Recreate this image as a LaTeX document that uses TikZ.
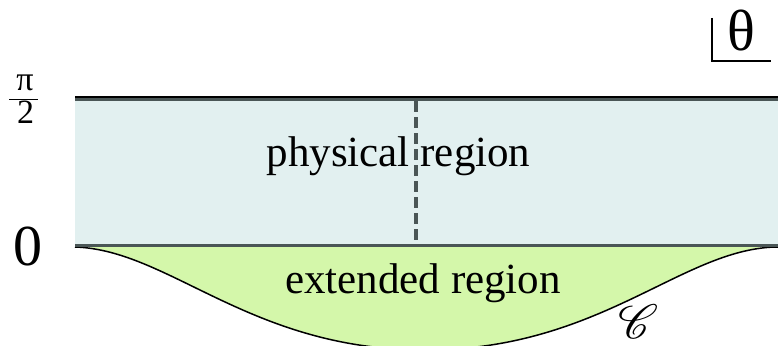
\documentclass[tikz,border=0pt]{standalone}
\usepackage{fontspec}
\setmainfont{Liberation Serif}
\usepackage{mathrsfs}
\usepackage{tikz}
\definecolor{physfill}{HTML}{E2F0F0}
\definecolor{extfill}{HTML}{D4F7AA}
\definecolor{edgegray}{HTML}{4A5656}
\tikzstyle{edge} = [draw=edgegray, line width=3pt]
\tikzstyle{cut} = [draw=edgegray, line width=4pt, dash pattern=on 11pt off 5pt]
\tikzstyle{contour} = [draw=black, line width=1.5pt]
\tikzstyle{label} = [inner sep=0pt, font=\fontsize{43}{50}\selectfont]
\tikzstyle{tick} = [inner sep=0pt, font=\fontsize{58}{64}\selectfont]
\tikzstyle{fracpart} = [inner sep=0pt, font=\fontsize{34}{38}\selectfont]

\begin{document}
\begin{tikzpicture}[x=1pt, y=-1pt]
        \useasboundingbox (0,0) rectangle (778,345);
        \clip (0,0) rectangle (778,345);

        % strip and extended region
        \fill[physfill] (75,96) rectangle (790,246);
        \fill[extfill] (75,246) .. controls (170,250) and (250,350) .. (425,350)
                                .. controls (600,350) and (680,250) .. (775,246) -- (790,246) -- cycle;
        \draw[contour] (75,247) .. controls (170,250) and (250,350) .. (425,350)
                                .. controls (600,350) and (680,250) .. (775,247) -- (790,247);

        \draw[edge] (75,245.5) -- (790,245.5);
        \draw[edge] (75,99.5)  -- (790,99.5);
        \draw[black, line width=2pt] (75,97) -- (790,97);
        \draw[cut]  (415.5,101) -- (415.5,244);

        \node[label, anchor=base]   (phys)  at (398.5,166) {physical region};
        \node[label, anchor=base]   (ext)   at (423,293)   {extended region};
        \node[tick, anchor=base]    (zero)  at (28,265)    {0};

        % pi over 2
        \node[fracpart, anchor=base] (pi)   at (25,90)     {π};
        \node[fracpart, anchor=base] (two)  at (25.5,123)  {2};
        \coordinate (bar left)  at (9,99.5);
        \coordinate (bar right) at (38,99.5);
        \draw[line width=1.5pt] (bar left) -- (bar right);

        \node[inner sep=0pt, scale=4.8] (curve) at (639,322) {$\mathscr{C}$};

        % variable box
        \node[tick]                 (theta) at (741,31)    {θ};
        \draw[line width=1.2pt] (712,18) -- (712,61) -- (771,61);
    \end{tikzpicture}
\end{document}
